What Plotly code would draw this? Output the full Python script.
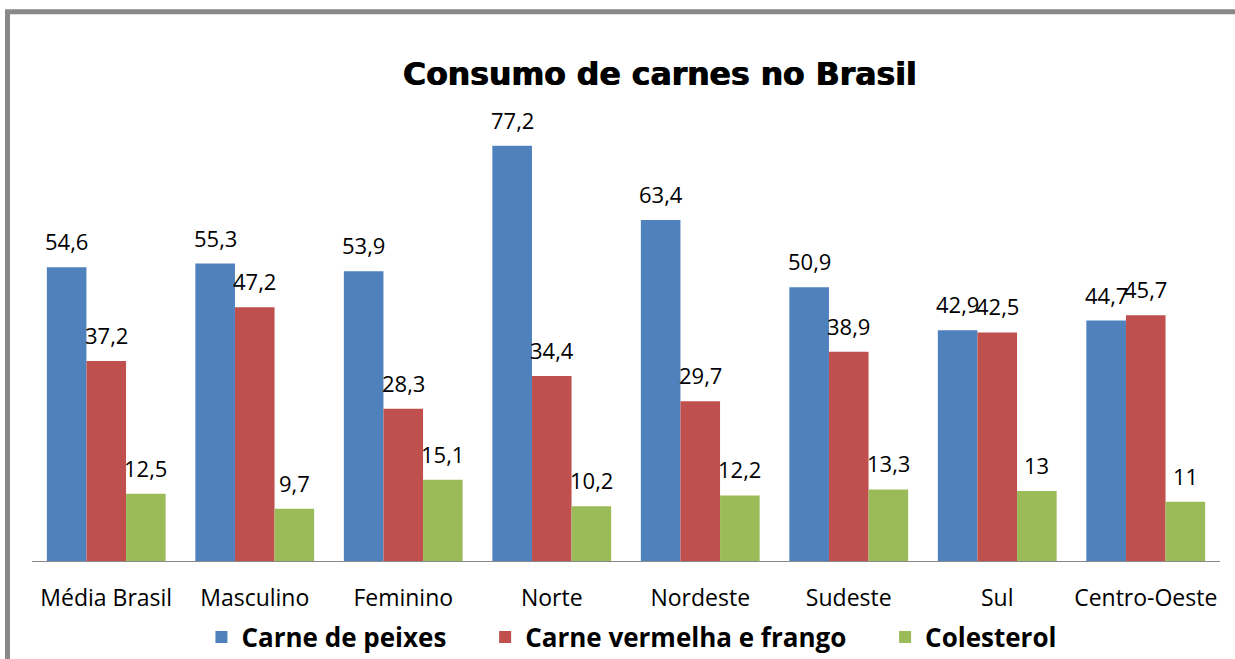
import plotly.graph_objects as go

categorias = ["Média Brasil", "Masculino", "Feminino", "Norte", "Nordeste", "Sudeste", "Sul", "Centro-Oeste"]
carne_peixes = [54.6, 55.3, 53.9, 77.2, 63.4, 50.9, 42.9, 44.7]
carne_vermelha = [37.2, 47.2, 28.3, 34.4, 29.7, 38.9, 42.5, 45.7]
colesterol = [12.5, 9.7, 15.1, 10.2, 12.2, 13.3, 13, 11]

series = [
    ("Carne de peixes", carne_peixes, "#4F81BD"),
    ("Carne vermelha e frango", carne_vermelha, "#C0504D"),
    ("Colesterol", colesterol, "#9BBB59"),
]

W, H = 1235, 659
ML, MR, MT, MB = 32, 15, 77, 98
plot_w = W - ML - MR
bargap = 0.2
bar_px = plot_w / len(categorias) * (1 - bargap) / len(series)
pad = "\u00a0" * 5  # espaço extra entre itens da legenda


def fmt(v):
    return ("%g" % v).replace(".", ",")


fig = go.Figure()
annotations = []
for i, (name, vals, color) in enumerate(series):
    label = name + (pad if i < len(series) - 1 else "")
    fig.add_trace(go.Bar(x=categorias, y=vals, name=label, marker=dict(color=color, line=dict(width=0))))
    for c, v in zip(categorias, vals):
        annotations.append(dict(
            x=c, y=v, xref="x", yref="y", text=fmt(v), showarrow=False,
            xshift=(i - 1) * bar_px, yshift=26, yanchor="middle",
            font=dict(family="Open Sans", size=22, color="#000000"),
        ))

fig.update_layout(
    width=W, height=H,
    barmode="group", bargap=bargap, bargroupgap=0,
    paper_bgcolor="white", plot_bgcolor="white",
    margin=dict(l=ML, r=MR, t=MT, b=MB, autoexpand=False),
    title=dict(text="<b>Consumo de carnes no Brasil</b>", x=0.534, xanchor="center", y=0.888, yanchor="middle",
               font=dict(family="DejaVu Sans", size=31.5, color="#000000", shadow="1px 0px 0px #000000")),
    xaxis=dict(showline=True, linecolor="#888888", linewidth=1, ticks="", showgrid=False,
               ticklabelstandoff=16, tickfont=dict(family="Open Sans", size=23, color="#000000")),
    yaxis=dict(range=[0, 90], visible=False, showgrid=False, zeroline=False),
    legend=dict(orientation="h", x=0.505, xanchor="center", y=-0.157, yanchor="middle",
                font=dict(family="Open Sans", size=26, color="#000000", weight="bold"),
                itemwidth=30, tracegroupgap=0),
    annotations=annotations,
    shapes=[dict(type="rect", xref="paper", yref="paper", x0=-0.0206, x1=1.05, y0=-0.3, y1=1.135,
                 line=dict(color="#888888", width=5), layer="below")],
)

fig.write_html("out.html", config={"displayModeBar": False}, post_script="document.body.style.margin='0';")
